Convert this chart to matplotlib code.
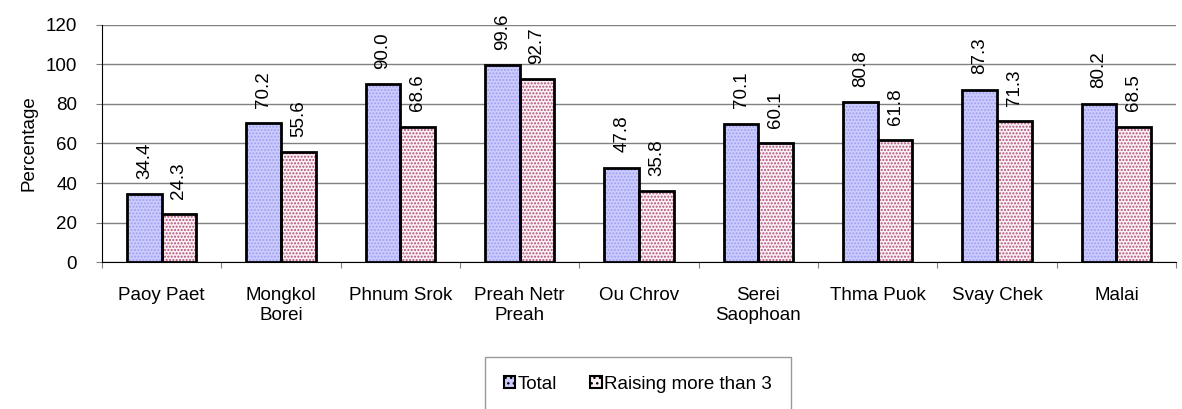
import numpy as np
import matplotlib.pyplot as plt
from matplotlib.patches import Patch

plt.rcParams['font.family'] = ['Liberation Sans', 'DejaVu Sans']
plt.rcParams['hatch.linewidth'] = 1.0

districts = ["Paoy Paet", "Mongkol\nBorei", "Phnum Srok", "Preah Netr\nPreah",
             "Ou Chrov", "Serei\nSaophoan", "Thma Puok", "Svay Chek", "Malai"]
total = [34.4, 70.2, 90.0, 99.6, 47.8, 70.1, 80.8, 87.3, 80.2]
raising = [24.3, 55.6, 68.6, 92.7, 35.8, 60.1, 61.8, 71.3, 68.5]
series_names = ["Total", "Raising more than 3"]

fs = 13.5
fig = plt.figure(figsize=(11.82, 4.09), dpi=100)
ax = fig.add_axes([0.0863, 0.3594, 0.9087, 0.5795])

x = np.arange(len(districts))
w = 0.29

# hatched fill first, black outline on top
ax.bar(x - w / 2, total, w, color='#ccccff', edgecolor='#a0a0f0', hatch='.....', linewidth=0, zorder=2)
ax.bar(x + w / 2, raising, w, color='#fbf0f4', edgecolor='#b0507a', hatch='.....', linewidth=0, zorder=2)
ax.bar(x - w / 2, total, w, fill=False, edgecolor='black', linewidth=2, zorder=3)
ax.bar(x + w / 2, raising, w, fill=False, edgecolor='black', linewidth=2, zorder=3)

for xi, v in zip(x - w / 2, total):
    ax.annotate(f"{v:.1f}", (xi, v), xytext=(0, 11), textcoords='offset points',
                rotation=90, ha='center', va='bottom', fontsize=fs)
for xi, v in zip(x + w / 2, raising):
    ax.annotate(f"{v:.1f}", (xi, v), xytext=(0, 11), textcoords='offset points',
                rotation=90, ha='center', va='bottom', fontsize=fs)

ax.set_xlim(-0.5, len(districts) - 0.5)
ax.set_ylim(0, 120)
ax.set_yticks(range(0, 121, 20))
ax.set_xticks(np.arange(len(districts) + 1) - 0.5)
ax.set_xticklabels([])
ax.set_xticks(x, minor=True)
ax.set_xticklabels(districts, minor=True, fontsize=fs)
ax.tick_params(axis='x', which='minor', length=0, pad=18)
ax.tick_params(axis='x', which='major', length=4, direction='out', color='#808080')
ax.tick_params(axis='y', length=4, direction='out', labelsize=fs, color='#808080', pad=14)
ax.set_ylabel("Percentage", fontsize=fs, labelpad=6)

ax.yaxis.grid(True, color='#808080', linewidth=1)
ax.set_axisbelow(True)
ax.spines['top'].set_visible(False)
ax.spines['right'].set_visible(False)
ax.spines['left'].set_color('black')
ax.spines['bottom'].set_color('black')

handles = [Patch(facecolor='#ccccff', edgecolor='black', linewidth=1.5, hatch='...'),
           Patch(facecolor='#fbf0f4', edgecolor='black', linewidth=1.5, hatch='...')]
leg = fig.legend(handles, series_names, loc='upper left', bbox_to_anchor=(0.4103, 0.127, 0.2589, 0),
                 mode='expand', ncol=2, fontsize=fs, frameon=True, fancybox=False,
                 handlelength=0.6, handleheight=0.6, handletextpad=0.15, columnspacing=1.0,
                 borderaxespad=0, borderpad=1.0)
leg.get_frame().set_edgecolor('#808080')
leg.get_frame().set_linewidth(1)

fig.savefig("out.png", dpi=100)
